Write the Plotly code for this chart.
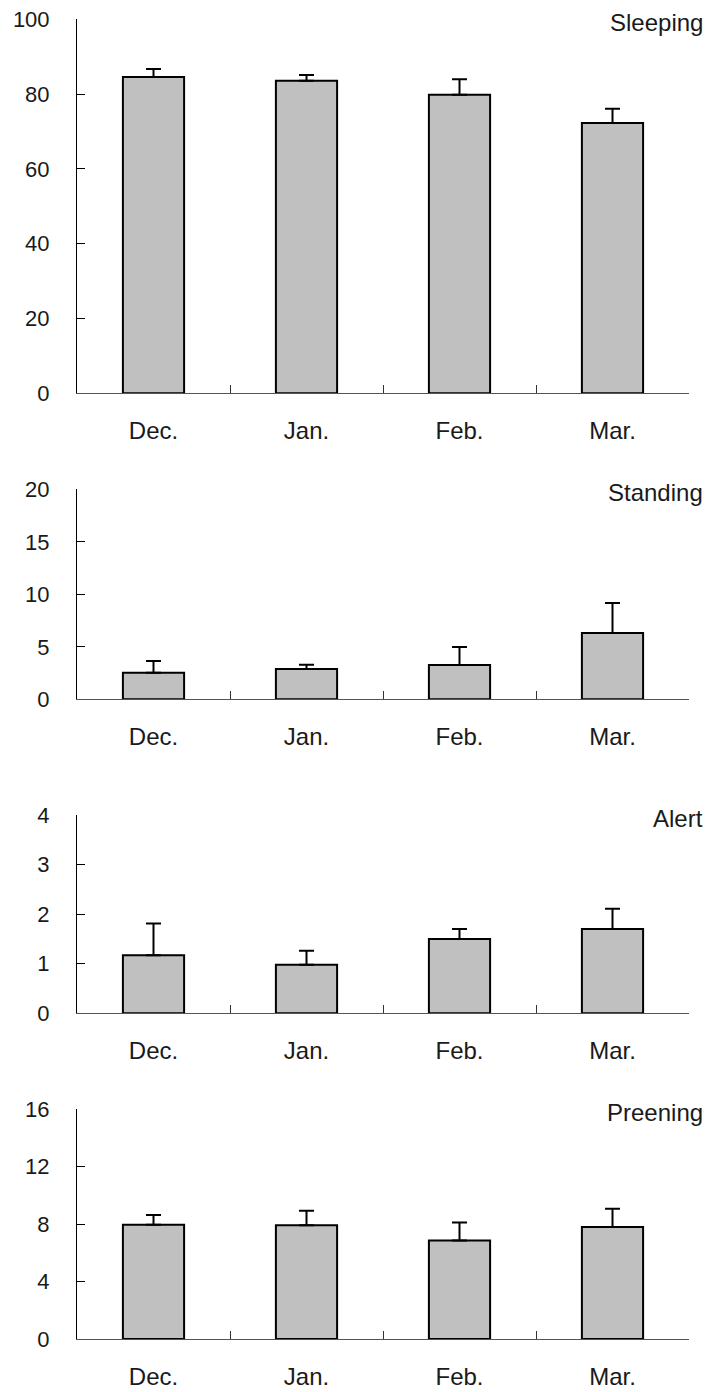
import plotly.graph_objects as go

months = ["Dec.", "Jan.", "Feb.", "Mar."]

sleeping_mean = [84.6, 83.6, 79.8, 72.3]
sleeping_se = [2.1, 1.5, 4.2, 3.8]

standing_mean = [2.53, 2.89, 3.27, 6.31]
standing_se = [1.12, 0.41, 1.71, 2.86]

alert_mean = [1.17, 0.98, 1.50, 1.70]
alert_se = [0.64, 0.28, 0.20, 0.41]

preening_mean = [7.94, 7.92, 6.85, 7.80]
preening_se = [0.68, 1.00, 1.25, 1.26]

titles = ["Sleeping", "Standing", "Alert", "Preening"]
y_max = [100, 20, 4, 16]
y_dtick = [20, 5, 1, 4]

means = [sleeping_mean, standing_mean, alert_mean, preening_mean]
ses = [sleeping_se, standing_se, alert_se, preening_se]

W, H = 709, 1392
# panel pixel extents (top, bottom)
panel_px = [(19.3, 393.3), (489.3, 699.3), (815.0, 1013.3), (1109.0, 1339.0)]

FONT = "Liberation Sans, Arial, sans-serif"

fig = go.Figure()
for i in range(4):
    ax = "" if i == 0 else str(i + 1)
    fig.add_trace(go.Bar(
        x=months, y=means[i],
        xaxis="x" + ax, yaxis="y" + ax,
        width=0.4,
        marker=dict(color="#c0c0c0", line=dict(color="#000000", width=2)),
        error_y=dict(type="data", array=ses[i], arrayminus=[0] * 4, symmetric=False,
                     color="#000000", thickness=2, width=7.5),
        showlegend=False,
    ))
    top, bot = panel_px[i]
    dom = [1 - bot / H, 1 - top / H]
    xa = dict(
        domain=[0, 1], anchor="y" + ax, type="category",
        range=[-0.5, 3.5], showline=True, linecolor="#555555", linewidth=1,
        ticks="inside", tickson="boundaries", ticklen=8, tickcolor="#333333", tickwidth=1,
        tickfont=dict(family=FONT, size=24, color="#1a1a1a"),
        ticklabelstandoff=16, showgrid=False, zeroline=False, automargin=False,
        fixedrange=True,
    )
    ya = dict(
        domain=dom, anchor="x" + ax, range=[0, y_max[i]], dtick=y_dtick[i], tick0=0,
        showline=True, linecolor="#000000", linewidth=1,
        ticks="inside", ticklen=8, tickcolor="#000000", tickwidth=1,
        tickfont=dict(family=FONT, size=22, color="#1a1a1a"),
        ticklabelstandoff=22, showgrid=False, zeroline=False, automargin=False,
        fixedrange=True,
    )
    fig.update_layout(**{"xaxis" + ax: xa, "yaxis" + ax: ya})
    fig.add_annotation(
        text=titles[i], xref="paper", x=1, xanchor="right", xshift=16,
        yref="y" + ax + " domain", y=1, yanchor="middle", yshift=-3,
        showarrow=False, font=dict(family=FONT, size=24, color="#1a1a1a"),
    )

fig.update_layout(
    width=W, height=H,
    margin=dict(l=77, r=20, t=0, b=0),
    paper_bgcolor="white", plot_bgcolor="white",
    bargap=0.6,
)

fig.write_html("out.html")
